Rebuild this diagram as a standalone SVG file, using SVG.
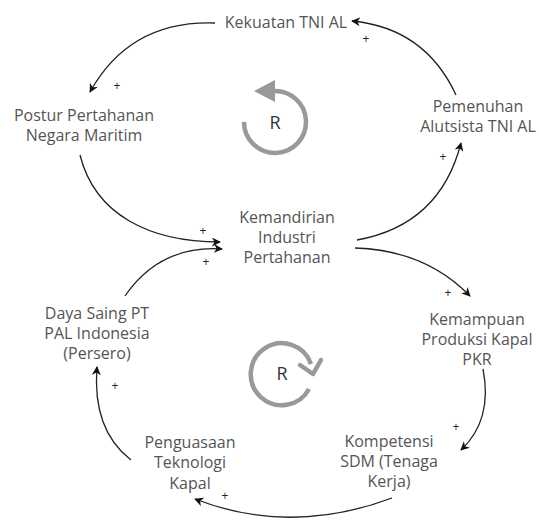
<svg xmlns="http://www.w3.org/2000/svg" width="539" height="523" viewBox="0 0 539 523">
<defs>
<style>
.lbl{font-family:"Open Sans","DejaVu Sans",sans-serif;font-size:16px;fill:#555;text-anchor:middle}
.plus{font-family:"Open Sans","DejaVu Sans",sans-serif;font-size:12px;fill:#222;text-anchor:middle}
.edge{fill:none;stroke:#222;stroke-width:1.3;marker-end:url(#arr)}
.loop{fill:none;stroke:#999;stroke-width:4.5}
.r{font-family:"Open Sans","DejaVu Sans",sans-serif;font-size:18px;fill:#333;text-anchor:middle}
</style>
<marker id="arr" viewBox="0 0 10 10" refX="9" refY="5" markerWidth="9" markerHeight="9" markerUnits="userSpaceOnUse" orient="auto">
<path d="M0,0 L10,5 L0,10 L3,5 Z" fill="#111"/>
</marker>
</defs>
<rect width="539" height="523" fill="#fff"/>
<g id="connectors">
<path class="edge" d="M215,23 Q130,20 90,92"/>
<path class="edge" d="M456,95 Q425,28 352,21"/>
<path class="edge" d="M357,240 Q440,225 461,143"/>
<path class="edge" d="M355,248 Q425,250 470,296"/>
<path class="edge" d="M483,369 Q493,420 461,450"/>
<path class="edge" d="M392,498 Q290,536 195,499"/>
<path class="edge" d="M131,460 Q92,430 97,367"/>
<path class="edge" d="M125,296 Q160,245 222,249"/>
<path class="edge" d="M80,155 C95,215 150,242 220,242"/>
<text class="plus" x="117" y="90">+</text>
<text class="plus" x="366" y="43">+</text>
<text class="plus" x="443" y="161">+</text>
<text class="plus" x="448" y="297">+</text>
<text class="plus" x="456" y="431">+</text>
<text class="plus" x="225" y="500">+</text>
<text class="plus" x="115" y="390">+</text>
<text class="plus" x="206" y="266">+</text>
<text class="plus" x="203" y="235">+</text>
</g>
<g id="loop-top">
<path class="loop" d="M244,122 A31,31 0 1 0 273,91"/>
<polygon points="254,91 275,80 275,102" fill="#999"/>
<text class="r" x="275" y="129">R</text>
</g>
<g id="loop-bottom">
<path class="loop" d="M309,389 A31,31 0 1 1 311,364"/>
<polyline points="300,365 313,374 321,360" fill="none" stroke="#999" stroke-width="4.5" stroke-linejoin="round" stroke-linecap="round"/>
<text class="r" x="282" y="380">R</text>
</g>
<g id="kekuatan"><text class="lbl" x="286" y="28">Kekuatan TNI AL</text></g>
<g id="postur"><text class="lbl" x="84" y="121">Postur Pertahanan</text><text class="lbl" x="84" y="141">Negara Maritim</text></g>
<g id="pemenuhan"><text class="lbl" x="478" y="112">Pemenuhan</text><text class="lbl" x="478" y="132">Alutsista TNI AL</text></g>
<g id="kemandirian"><text class="lbl" x="287" y="223">Kemandirian</text><text class="lbl" x="287" y="243">Industri</text><text class="lbl" x="287" y="263">Pertahanan</text></g>
<g id="kemampuan"><text class="lbl" x="477" y="325">Kemampuan</text><text class="lbl" x="477" y="345">Produksi Kapal</text><text class="lbl" x="477" y="365">PKR</text></g>
<g id="dayasaing"><text class="lbl" x="97" y="319">Daya Saing PT</text><text class="lbl" x="97" y="339">PAL Indonesia</text><text class="lbl" x="97" y="359">(Persero)</text></g>
<g id="penguasaan"><text class="lbl" x="190" y="448">Penguasaan</text><text class="lbl" x="190" y="468">Teknologi</text><text class="lbl" x="190" y="489">Kapal</text></g>
<g id="kompetensi"><text class="lbl" x="389" y="447">Kompetensi</text><text class="lbl" x="389" y="467">SDM (Tenaga</text><text class="lbl" x="389" y="487">Kerja)</text></g>
</svg>
